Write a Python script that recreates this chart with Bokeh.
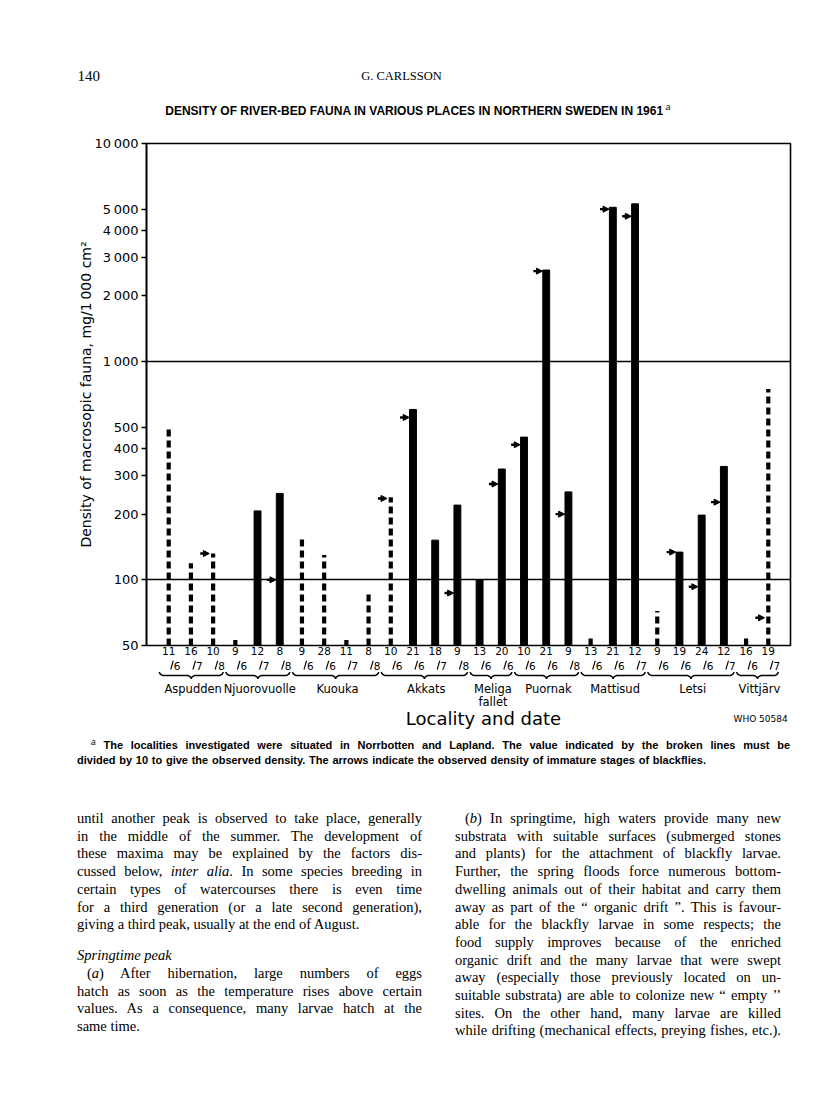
import numpy as np
from bokeh.plotting import figure
from bokeh.models import (Range1d, FixedTicker, Arrow, NormalHead,
                          ColumnDataSource, Div, LinearScale)
from bokeh.core.properties import value
from bokeh.layouts import column
from bokeh.embed import file_html
from bokeh.resources import INLINE

# ---------------- data ----------------
localities = ["Aspudden", "Njuorovuolle", "Kuouka", "Akkats", "Meliga\nfallet",
              "Puornak", "Mattisud", "Letsi", "Vittjärv"]
samples_per_locality = [3, 3, 4, 4, 2, 3, 3, 4, 2]
sample_day = [11, 16, 10, 9, 12, 8, 9, 28, 11, 8, 10, 21, 18, 9, 13, 20,
              10, 21, 9, 13, 21, 12, 9, 19, 24, 12, 16, 19]
sample_month = [6, 7, 8, 6, 7, 8, 6, 6, 7, 8, 6, 6, 7, 8, 6, 6,
                6, 6, 8, 6, 6, 7, 6, 6, 6, 7, 6, 7]
density = [490, 119, 132, 53, 207, 249, 159, 130, 53, 87, 239, 604, 152, 220,
           100, 322, 451, 2630, 253, 54, 5100, 5290, 72, 134, 198, 331, 54, 750]
broken_line = [1, 1, 1, 1, 0, 0, 1, 1, 1, 1, 1, 0, 0, 0,
               0, 0, 0, 0, 0, 1, 0, 0, 1, 0, 0, 0, 1, 1]
blackfly_density = [None, None, 132, None, None, 100, None, None, None, None,
                    236, 555, None, 87, None, 275, 416, 2600, 200, None,
                    5000, 4640, None, 134, 93, 227, None, 67]
y_ticks = [50, 100, 200, 300, 400, 500, 1000, 2000, 3000, 4000, 5000, 10000]
y_tick_labels = ["50", "100", "200", "300", "400", "500", "1\u2009000", "2\u2009000",
                 "3\u2009000", "4\u2009000", "5\u2009000", "10\u2009000"]
grid_values = [100, 1000]

# ---------------- page geometry (page pixels) ----------------
W = 816
L, R, T, B = 146, 790, 143, 645     # chart frame
TOP_H = 130                          # header strip height
CH_BOTTOM = 660                      # end of chart canvas
LOW_BOTTOM = 733                     # end of lower label strip
PAGE_END = 1100
XMAX = 29.0

SANS = "DejaVu Sans"
HSANS = "Liberation Sans"
SERIF = "Liberation Serif"

n = len(density)
idx = np.arange(1, n + 1)


def blank_strip(y0, y1, x_range):
    f = figure(width=W, height=y1 - y0, x_range=x_range, y_range=Range1d(y1, y0),
               output_backend="svg", toolbar_location=None,
               min_border_left=0, min_border_right=0, min_border_top=0, min_border_bottom=0)
    f.frame_align = False
    f.extra_x_ranges = {"px": Range1d(0, W)}
    f.extra_x_scales = {"px": LinearScale()}
    f.axis.visible = False
    f.grid.visible = False
    f.outline_line_color = None
    f.background_fill_color = "white"
    f.border_fill_color = "white"
    return f


def ptext(f, x, y, text, size, font=SANS, style="normal", align="left", page_x=True):
    kw = dict(x_range_name="px") if page_x else {}
    f.text(x=[x], y=[y], text=[text], text_align=align, text_baseline="middle",
           text_font=value(font), text_font_size=f"{size}px", text_font_style=style,
           text_color="black", **kw)


# ================= header strip =================
h = blank_strip(0, TOP_H, Range1d(0, W))
ptext(h, 77, 75, "140", 15, font=SERIF)
ptext(h, 401, 75, "G. CARLSSON", 12.5, font=SERIF, align="center")
ptext(h, 414, 110, "DENSITY OF RIVER-BED FAUNA IN VARIOUS PLACES IN NORTHERN SWEDEN IN 1961",
      12, font=HSANS, style="bold", align="center")
ptext(h, 665, 106, "a", 9, font=HSANS, style="italic")

# ================= main chart =================
p = figure(width=W, height=CH_BOTTOM - TOP_H, x_range=Range1d(0, XMAX), y_range=Range1d(50, 10000),
           y_axis_type="log", output_backend="svg", toolbar_location=None,
           min_border_left=L, min_border_right=W - R,
           min_border_top=T - TOP_H, min_border_bottom=CH_BOTTOM - B)
p.frame_align = False
p.background_fill_color = "white"
p.border_fill_color = "white"
p.outline_line_color = "black"
p.outline_line_width = 1.6
p.xgrid.visible = False
p.ygrid.ticker = FixedTicker(ticks=grid_values)
p.ygrid.grid_line_color = "black"
p.ygrid.grid_line_width = 1.3

ax = p.yaxis[0]
ax.ticker = FixedTicker(ticks=y_ticks)
ax.major_label_overrides = dict(zip(y_ticks, y_tick_labels))
ax.major_tick_in = 0
ax.major_tick_out = 5
ax.minor_tick_in = 0
ax.minor_tick_out = 0
ax.axis_line_width = 1.6
ax.major_tick_line_width = 1.4
ax.major_label_text_font = SANS
ax.major_label_text_font_size = "13px"
ax.major_label_text_color = "black"
ax.major_label_standoff = 3
ax.axis_label = "Density of macrosopic fauna, mg/1\u2009000 cm\u00b2"
ax.axis_label_text_font = SANS
ax.axis_label_text_font_style = "normal"
ax.axis_label_text_font_size = "14px"
ax.axis_label_text_color = "black"
ax.axis_label_standoff = -2

# x axis carries the day (numerator of each date)
xa = p.xaxis[0]
xa.ticker = FixedTicker(ticks=list(idx))
xa.major_label_overrides = {int(i): str(d) for i, d in zip(idx, sample_day)}
xa.axis_line_color = None
xa.major_tick_in = 0
xa.major_tick_out = 0
xa.minor_tick_in = 0
xa.minor_tick_out = 0
xa.major_label_standoff = 1
xa.major_label_text_font = SANS
xa.major_label_text_font_size = "10.5px"
xa.major_label_text_color = "black"

# bars
dens = np.array(density, dtype=float)
brk = np.array(broken_line, dtype=bool)
p.vbar(x=idx[~brk], top=dens[~brk], bottom=50, width=0.31, color="black")
p.segment(x0=idx[brk], y0=50, x1=idx[brk], y1=dens[brk], line_width=4.2,
          line_dash="7 4", line_color="black", line_cap="butt")

# arrows = density of immature blackflies
ai = [i for i, v in zip(idx, blackfly_density) if v is not None]
av = [v for v in blackfly_density if v is not None]
asrc = ColumnDataSource(dict(xs=[i - 0.58 for i in ai], xe=[i - 0.17 for i in ai], y=av))
p.add_layout(Arrow(end=NormalHead(size=6, fill_color="black", line_color="black", line_width=1),
                   x_start="xs", y_start="y", x_end="xe", y_end="y", source=asrc,
                   line_width=2.4, line_color="black"))

# ================= lower strip: months, braces, localities =================
q = blank_strip(CH_BOTTOM, LOW_BOTTOM,
                Range1d(-L * XMAX / (R - L), (W - L) * XMAX / (R - L)))

# slash + month (denominator of each date)
q.segment(x0=idx + 0.21, y0=CH_BOTTOM, x1=idx + 0.09, y1=669, line_color="black", line_width=1.1)
q.text(x=idx + 0.38, y=[665.3] * n, text=[str(m) for m in sample_month], text_align="center",
       text_baseline="middle", text_font=value(SANS), text_font_size="10.5px", text_color="black")


def brace_path(x0, x1, y_line=675.0, h=3.5, k=0.22):
    xm = (x0 + x1) / 2
    th = np.linspace(0, np.pi / 2, 8)
    xs = list(x0 + k - k * np.cos(th)); ys = list(y_line - h + h * np.sin(th))
    xs += list(xm - k + k * np.sin(th)); ys += list(y_line + h - h * np.cos(th))
    xs += list(xm + k - k * np.cos(th)); ys += list(y_line + h - h * np.sin(th))
    xs += list(x1 - k + k * np.sin(th)); ys += list(y_line - h + h * np.cos(th))
    return xs, ys


bxs, bys, nx, ny, nt = [], [], [], [], []
start = 1
for name, cnt in zip(localities, samples_per_locality):
    first, last = start, start + cnt - 1
    bx, by = brace_path(first - 0.42, last + 0.45)
    bxs.append(bx); bys.append(by)
    for j, part in enumerate(name.split("\n")):
        nx.append((first + last) / 2 + 0.1); ny.append(688 + 13 * j); nt.append(part)
    start += cnt
q.multi_line(xs=bxs, ys=bys, line_color="black", line_width=1.5)
q.text(x=nx, y=ny, text=nt, text_align="center", text_baseline="middle",
       text_font=value(SANS), text_font_size="11.5px", text_color="black")

ptext(q, 483, 718, "Locality and date", 18, align="center")
ptext(q, 733, 718, "WHO 50584", 9)

# ================= footnote + body text (justified lines) =================
foot = [
    ('<span style="font-size:8.5px;font-style:italic;font-weight:normal;position:relative;top:-4px;">a</span>'
     "&nbsp;The localities investigated were situated in Norrbotten and Lapland.  The value indicated by the broken lines  must be",
     1, 91, 699, 745.0),
    ("divided by 10 to give the observed density.  The arrows indicate the observed density of immature stages of blackflies.",
     1, 77, 629, 759.5),
]
left_col = [
    ("until another peak is observed to take place, generally", 1, 0, 818.0),
    ("in the middle of the summer. The development of", 1, 0, 835.7),
    ("these maxima may be explained by the factors dis-", 1, 0, 853.4),
    ("cussed below, <i>inter alia</i>. In some species breeding in", 1, 0, 871.1),
    ("certain types of watercourses there is even time", 1, 0, 888.8),
    ("for a third generation (or a late second generation),", 1, 0, 906.5),
    ("giving a third peak, usually at the end of August.", 0, 0, 924.2),
    ("<i>Springtime peak</i>", 0, 0, 955.0),
    ("(<i>a</i>) After hibernation, large numbers of eggs", 1, 10, 973.0),
    ("hatch as soon as the temperature rises above certain", 1, 0, 990.7),
    ("values. As a consequence, many larvae hatch at the", 1, 0, 1008.4),
    ("same time.", 0, 0, 1026.1),
]
right_col = [
    ("(<i>b</i>) In springtime, high waters provide many new", 1, 10),
    ("substrata with suitable surfaces (submerged stones", 1, 0),
    ("and plants) for the attachment of blackfly larvae.", 1, 0),
    ("Further, the spring floods force numerous bottom-", 1, 0),
    ("dwelling animals out of their habitat and carry them", 1, 0),
    ("away as part of the \u201c organic drift \u201d.  This is favour-", 1, 0),
    ("able for the blackfly larvae in some respects; the", 1, 0),
    ("food supply improves because of the enriched", 1, 0),
    ("organic drift and the many larvae that were swept", 1, 0),
    ("away (especially those previously located on un-", 1, 0),
    ("suitable substrata) are able to colonize new \u201c empty \u2019\u2019", 1, 0),
    ("sites. On the other hand, many larvae are killed", 1, 0),
    ("while drifting (mechanical effects, preying fishes, etc.).", 1, 0),
]
LH = 18


def line_html(text, just, left, width, yc, extra=""):
    top = yc - LOW_BOTTOM - LH / 2
    ta = "justify" if just else "left"
    return (f'<div style="position:absolute;left:{left}px;top:{top:.1f}px;'
            f'width:{width}px;line-height:{LH}px;height:{LH}px;text-align:{ta};'
            f'text-align-last:{ta};{extra}">{text}</div>')


parts = []
for text, just, left, width, yc in foot:
    parts.append(line_html(text, just, left, width, yc,
                           extra=f"font-family:'{HSANS}';font-weight:bold;font-size:11px;"))
for text, just, ind, yc in left_col:
    parts.append(line_html(text, just, 77 + ind, 345 - ind, yc))
for k, (text, just, ind) in enumerate(right_col):
    parts.append(line_html(text, just, 455 + ind, 326 - ind, 818.0 + 17.7 * k))
BODY_H = PAGE_END - LOW_BOTTOM
body_html = (f'<div style="position:relative;width:{W}px;height:{BODY_H}px;'
             f"font-family:'{SERIF}';font-size:14.5px;color:#000;\">" + "".join(parts) + "</div>")
body = Div(text=body_html, width=W, height=BODY_H, margin=(0, 0, 0, 0))

layout = column(h, p, q, body, spacing=0)
open("out.html", "w").write(file_html(layout, INLINE))
